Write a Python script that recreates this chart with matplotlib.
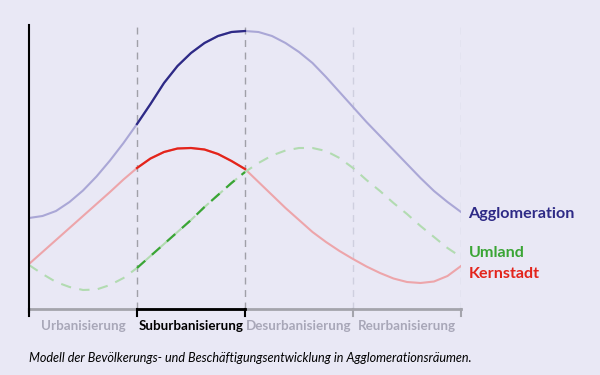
import matplotlib.pyplot as plt
from matplotlib import rcParams

rcParams['font.family'] = ['Lato', 'DejaVu Sans']

# stage positions (0..4) read every eighth of a stage
x = [i / 8 for i in range(33)]
agglomeration = [91, 93, 98, 107, 118.5, 132.5, 148.5, 166, 185, 205, 226, 243, 256, 266, 273, 277,
                 278, 277, 273, 266, 257, 246, 232, 217, 202, 187, 173, 159, 145, 131, 118, 107, 97]
kernstadt = [45, 57, 69, 81, 93, 105, 117, 129.5, 141, 150.5, 157, 160.5, 161, 159.5, 155, 148,
             140, 127, 114, 101, 89, 77, 67, 58, 50, 42.5, 36, 30.5, 27, 26, 27.5, 33, 43]
umland = [44, 35, 27, 22, 19, 19.5, 24, 31, 41, 53, 65, 77, 89, 102, 114, 126,
          137, 146, 153.5, 158.5, 161, 161, 158, 151, 141, 129, 118, 106, 95, 83, 72, 61, 52]

stages = ['Urbanisierung', 'Suburbanisierung', 'Desurbanisierung', 'Reurbanisierung']
active = 1  # highlighted stage

bg = '#e9e8f5'
fig = plt.figure(figsize=(6, 3.75), dpi=100, facecolor=bg)
ax = fig.add_axes([29 / 600, 66 / 375, 432 / 600, 284 / 375])
ax.set_facecolor(bg)
ax.set_xlim(0, 4)
ax.set_ylim(0, 284)
for s in ax.spines.values():
    s.set_visible(False)
ax.set_xticks([])
ax.set_yticks([])

# vertical stage separators
for b in range(1, 5):
    c = '#a0a0a8' if b in (active, active + 1) else '#cfcfdf'
    ax.plot([b, b], [0, 284], color=c, lw=1, ls=(0, (5, 4)), zorder=1)

series = [
    (agglomeration, '#aaa7d6', '#2e2a86', '-'),
    (kernstadt, '#eda5aa', '#e3241b', '-'),
    (umland, '#b2dbb1', '#3aa535', (0, (5, 4))),
]
i0, i1 = active * 8, (active + 1) * 8 + 1
for y, faded, strong, ls in series:
    ax.plot(x, y, color=faded, lw=1.5, ls=ls, zorder=2)
    ax.plot(x[i0:i1], y[i0:i1], color=strong, lw=1.6, ls=ls, zorder=3)

# axes lines
ax.plot([0, 4], [0, 0], color='#a4a4ac', lw=2, clip_on=False, zorder=4)
ax.plot([active, active + 1], [0, 0], color='black', lw=2, clip_on=False, zorder=5)
for b in range(5):
    c = 'black' if b in (0, active, active + 1) else '#a4a4ac'
    ax.plot([b, b], [0, -7], color=c, lw=1.5, clip_on=False, zorder=5)
ax.plot([0, 0], [-3, 284], color='black', lw=1.5, clip_on=False, zorder=6)

for i, name in enumerate(stages):
    ax.text(i + 0.5, -17, name, ha='center', va='center', fontsize=9.6,
            fontweight='bold', color='black' if i == active else '#a8a7b8')

# curve names
ax.text(4.07, agglomeration[-1] - 2, 'Agglomeration', color='#2e2a86', fontsize=11.6,
        fontweight='bold', va='center', ha='left')
ax.text(4.07, umland[-1] + 4, 'Umland', color='#3aa535', fontsize=11.6,
        fontweight='bold', va='center', ha='left')
ax.text(4.07, kernstadt[-1] - 8, 'Kernstadt', color='#e3241b', fontsize=11.6,
        fontweight='bold', va='center', ha='left')

fig.text(29 / 600, 1 - 358 / 375,
         'Modell der Bevölkerungs- und Beschäftigungsentwicklung in Agglomerationsräumen.',
         fontsize=9.1, style='italic', va='center', ha='left', color='black')

fig.savefig('out.png', dpi=100, facecolor=bg)
